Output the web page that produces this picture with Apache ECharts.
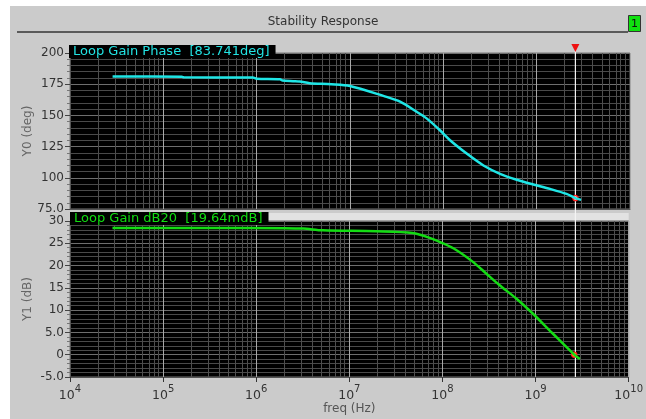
<!DOCTYPE html>
<html><head><meta charset="utf-8">
<script src="https://cdn.jsdelivr.net/npm/echarts@6/dist/echarts.min.js"></script>
<style>
html,body{margin:0;padding:0;background:#fff;}
#panel{position:absolute;left:10px;top:6px;width:636px;height:413px;background:#cbcbcb;}
#c{position:absolute;left:0;top:0;width:646px;height:419px;}
</style>
</head><body><div id="panel"></div><div id="c"></div>
<script>
// ---- data ----
const phaseFreq = [2.86e4, 1.58e5, 1.66e5, 9.1e5, 1.0e6, 1.78e6, 1.9e6, 2.45e6, 2.9e6, 3.7e6, 6.3e6, 1.0e7, 2.28e7, 3.44e7, 5.18e7, 6.62e7, 9.2e7, 1.18e8, 1.78e8, 2.69e8, 4.05e8, 6.11e8, 9.2e8, 1.39e9, 2.09e9, 2.6e9, 2.99e9];
const phaseDeg  = [181.2, 180.9, 180.5, 180.3, 179.4, 179.0, 177.9, 177.4, 177.1, 175.8, 175.0, 173.6, 165.6, 161.0, 152.9, 147.6, 138.1, 130.1, 119.4, 109.9, 103.2, 98.4, 94.6, 91.1, 87.1, 83.741, 82.3];
const gainFreq = [2.86e4, 3.2e5, 2.0e6, 3.2e6, 5.2e6, 1.93e7, 4.78e7, 7.8e7, 1.0e8, 1.39e8, 2.09e8, 2.91e8, 4.05e8, 6.11e8, 9.2e8, 1.51e9, 2.6e9, 2.99e9];
const gainDb   = [28.45, 28.45, 28.4, 28.3, 27.9, 27.7, 27.3, 26.0, 25.06, 23.56, 20.94, 18.33, 15.7, 12.72, 9.36, 4.87, 0.01964, -0.96];
const markerFreq = 2.6e9;
const markerPhase = 83.741;
const markerGain = 0.01964;
const xExponents = [4, 5, 6, 7, 8, 9, 10];
const minorMultipliers = [2, 3, 4, 5, 6, 7, 8, 9];
const phaseTicks = [75, 100, 125, 150, 175, 200];
const phaseTickLabels = ['75.0', '100', '125', '150', '175', '200'];
const gainTicks = [-5, 0, 5, 10, 15, 20, 25, 30];
const gainTickLabels = ['-5.0', '0', '5.0', '10', '15', '20', '25', '30'];
const titleText = 'Stability Response';
const phaseLabel = 'Loop Gain Phase  [83.741deg]';
const gainLabel = 'Loop Gain dB20  [19.64mdB]';

// ---- build ----
const FONT = 'DejaVu Sans';
const lg = Math.log10;
const phaseData = phaseFreq.map((f, i) => [lg(f), phaseDeg[i]]);
const gainData = gainFreq.map((f, i) => [lg(f), gainDb[i]]);
const minorX = [];
xExponents.slice(0, -1).forEach(n => minorMultipliers.forEach(k => minorX.push({xAxis: n + lg(k)})));
const mapLabels = (ticks, labels) => { const m = {}; ticks.forEach((t, i) => m[t] = labels[i]); return v => (m[v] !== undefined ? m[v] : ''); };

const xMin = xExponents[0], xMax = xExponents[xExponents.length - 1];
function xAxis(idx, showLabels) {
  return {
    type: 'value', gridIndex: idx, min: xMin, max: xMax, interval: 1,
    axisLine: {show: true, onZero: false, lineStyle: {color: '#555'}},
    axisTick: {show: showLabels, length: 5, lineStyle: {color: '#333'}},
    axisLabel: showLabels ? {
      show: true, margin: 7,
      formatter: v => '{b|10}{s|' + v + '}',
      rich: {b: {fontFamily: FONT, fontSize: 12.5, color: '#333', lineHeight: 18, verticalAlign: 'bottom'},
             s: {fontFamily: FONT, fontSize: 10, color: '#333', lineHeight: 18, verticalAlign: 'top'}}
    } : {show: false},
    splitLine: {show: true, lineStyle: {color: '#a8a8a8', width: 1}},
    name: showLabels ? 'freq (Hz)' : '', nameLocation: 'middle', nameGap: 26,
    nameTextStyle: {fontFamily: FONT, fontSize: 12, color: '#555'}
  };
}
function yAxis(idx, min, max, interval, ticks, labels, name) {
  return {
    type: 'value', gridIndex: idx, min: min, max: max, interval: interval,
    axisLine: {show: true, lineStyle: {color: '#555'}},
    axisTick: {show: true, length: 5, lineStyle: {color: '#444'}},
    minorTick: {show: true, splitNumber: 5, length: 3, lineStyle: {color: '#777'}},
    axisLabel: {fontFamily: FONT, fontSize: 12, color: '#333', margin: 6, formatter: mapLabels(ticks, labels)},
    splitLine: {show: true, lineStyle: {color: '#6e6e6e', width: 1}},
    minorSplitLine: {show: true, lineStyle: {color: '#4a4a4a', width: 1}},
    name: name, nameLocation: 'middle', nameGap: 36, nameRotate: 90, nameMoveOverlap: false,
    nameTextStyle: {fontFamily: FONT, fontSize: 12, color: '#666'}
  };
}
function minorSeries(idx) {
  return {type: 'line', xAxisIndex: idx, yAxisIndex: idx, data: [], z: 1, silent: true,
    markLine: {silent: true, symbol: ['none', 'none'], label: {show: false}, animation: false,
      lineStyle: {color: '#4e4e4e', width: 1, type: 'solid'}, emphasis: {disabled: true}, data: minorX}};
}

const chart = echarts.init(document.getElementById('c'), null, {renderer: 'canvas'});
chart.setOption({
  animation: false,
  backgroundColor: 'transparent',
  title: [
    {text: titleText, left: 'center', top: 11, textStyle: {fontFamily: FONT, fontSize: 12, fontWeight: 'normal', color: '#333'}},
    {text: phaseLabel, left: 69, top: 45, padding: [0, 6, 0, 4], backgroundColor: '#000',
     textStyle: {fontFamily: FONT, fontSize: 13, fontWeight: 'normal', color: '#22e3e3', lineHeight: 13}},
    {text: gainLabel, left: 70, top: 212, padding: [0, 6, 0, 4], backgroundColor: '#000',
     textStyle: {fontFamily: FONT, fontSize: 13, fontWeight: 'normal', color: '#11dd11', lineHeight: 13}}
  ],
  grid: [
    {left: 70, top: 53, width: 560, height: 156, show: true, backgroundColor: '#000', borderColor: '#777', borderWidth: 1},
    {left: 70, top: 221, width: 560, height: 156, show: true, backgroundColor: '#000', borderColor: '#777', borderWidth: 1}
  ],
  xAxis: [xAxis(0, false), xAxis(1, true)],
  yAxis: [
    yAxis(0, 75, 200, 25, phaseTicks, phaseTickLabels, 'Y0 (deg)'),
    yAxis(1, -5, 30, 5, gainTicks, gainTickLabels, 'Y1 (dB)')
  ],
  series: [
    minorSeries(0), minorSeries(1),
    {type: 'line', name: 'phase', xAxisIndex: 0, yAxisIndex: 0, data: phaseData, smooth: 0.3, showSymbol: false, z: 5,
     lineStyle: {color: '#1fe6e6', width: 2.5},
     markPoint: {silent: true, symbol: 'circle', symbolSize: 5, itemStyle: {color: '#ffffff', borderColor: '#ff2020', borderWidth: 1.5},
       label: {show: false}, data: [{coord: [lg(markerFreq), markerPhase]}]}},
    {type: 'line', name: 'gain', xAxisIndex: 1, yAxisIndex: 1, data: gainData, smooth: 0.3, showSymbol: false, z: 5,
     lineStyle: {color: '#14dc14', width: 2.5},
     markPoint: {silent: true, symbol: 'circle', symbolSize: 5, itemStyle: {color: '#ffee00', borderColor: '#ff2020', borderWidth: 1.5},
       label: {show: false}, data: [{coord: [lg(markerFreq), markerGain]}]}}
  ]
});

// marker cursor and decorations, placed through the chart's own scales
const mx = chart.convertToPixel({xAxisIndex: 0}, lg(markerFreq));
const yTop = chart.convertToPixel({yAxisIndex: 0}, 200);
const yBot = chart.convertToPixel({yAxisIndex: 1}, -5);
const gTop = chart.convertToPixel({yAxisIndex: 1}, 30);
const x1 = chart.convertToPixel({xAxisIndex: 1}, xMax);
chart.setOption({
  graphic: [
    {type: 'line', shape: {x1: 17, y1: 32, x2: 628, y2: 32}, style: {stroke: '#5a5a5a', lineWidth: 2}, z: 1},
    {type: 'rect', shape: {x: 628.5, y: 15.5, width: 12, height: 16}, style: {fill: '#10e010', stroke: '#333', lineWidth: 1}, z: 2},
    {type: 'text', x: 634.5, y: 24, style: {text: '1', fill: '#111', font: '11px ' + FONT, align: 'center', verticalAlign: 'middle'}, z: 3},
    {type: 'rect', shape: {x: 250, y: gTop - 8, width: x1 - 250, height: 7}, style: {fill: '#e2e2e2'}, z: -1},
    {type: 'line', shape: {x1: mx, y1: yTop - 5, x2: mx, y2: yBot}, style: {stroke: '#f4f4f4', lineWidth: 1.2}, z: 4},
    {type: 'polygon', shape: {points: [[mx - 4, yTop - 9], [mx + 4, yTop - 9], [mx, yTop - 1]]}, style: {fill: '#ee1111'}, z: 6}
  ]
});
</script>
</body></html>
